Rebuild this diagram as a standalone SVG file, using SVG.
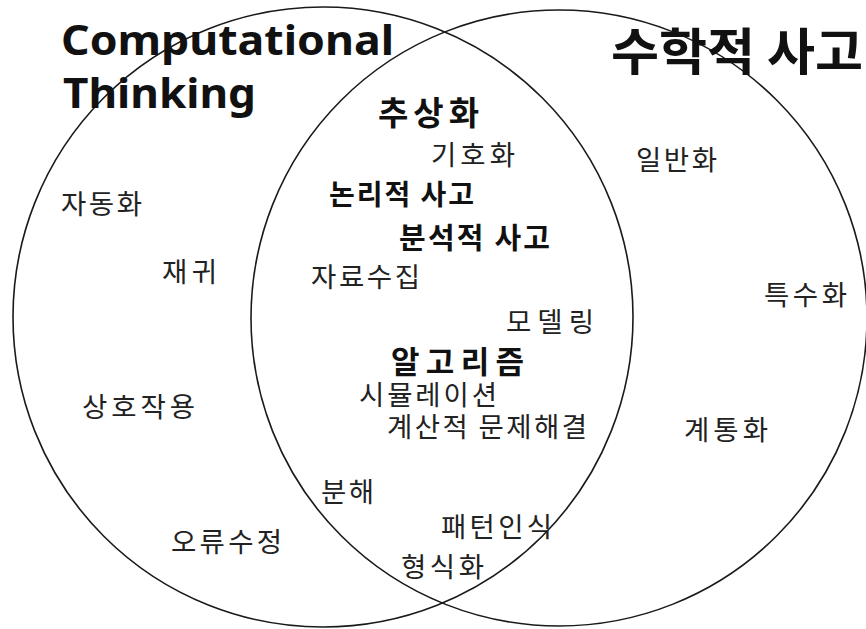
<svg xmlns="http://www.w3.org/2000/svg" width="866" height="629" viewBox="0 0 866 629">
<style>
.c{fill:none;stroke:#1a1a1a;stroke-width:1.6}
.t{font-family:"Noto Sans CJK KR","Noto Sans",sans-serif;fill:#222;font-size:27.5px}
.b{font-family:"Noto Sans CJK KR","Noto Sans",sans-serif;fill:#111;font-weight:bold}
.h{font-family:"Noto Sans","Open Sans",sans-serif;fill:#111;font-weight:bold;font-size:41px}
</style>
<rect width="866" height="629" fill="#fff"/>
<g id="circles">
<circle id="ct-circle" class="c" cx="323" cy="317" r="310"/>
<circle id="math-circle" class="c" cx="559" cy="318" r="308"/>
</g>
<g id="title-ct">
<text class="h" x="61" y="55" textLength="333" lengthAdjust="spacingAndGlyphs">Computational</text>
<text class="h" x="63" y="108" textLength="193" lengthAdjust="spacingAndGlyphs">Thinking</text>
</g>
<g id="title-math"><text class="b" x="611" y="70" font-size="50" textLength="252" lengthAdjust="spacingAndGlyphs">수학적 사고</text></g>
<g id="abstraction"><text class="b" x="378" y="125" font-size="33" textLength="101">추상화</text></g>
<g id="symbolization"><text class="t" x="431" y="165" textLength="84">기호화</text></g>
<g id="logical"><text class="b" x="329" y="205" font-size="28" textLength="145">논리적 사고</text></g>
<g id="analytical"><text class="b" x="399" y="249" font-size="29" textLength="151">분석적 사고</text></g>
<g id="data"><text class="t" x="311" y="287" textLength="109">자료수집</text></g>
<g id="modeling"><text class="t" x="506" y="332" textLength="88">모델링</text></g>
<g id="algorithm"><text class="b" x="391" y="373" font-size="31" textLength="133">알고리즘</text></g>
<g id="simulation"><text class="t" x="359" y="405" textLength="138">시뮬레이션</text></g>
<g id="comp-problem"><text class="t" x="387" y="437" textLength="200">계산적 문제해결</text></g>
<g id="decomposition"><text class="t" x="321" y="502" textLength="53">분해</text></g>
<g id="pattern"><text class="t" x="441" y="537" textLength="111">패턴인식</text></g>
<g id="formalization"><text class="t" x="401" y="577" textLength="83">형식화</text></g>
<g id="automation"><text class="t" x="61" y="214" textLength="81">자동화</text></g>
<g id="recursion"><text class="t" x="162" y="282" textLength="55">재귀</text></g>
<g id="interaction"><text class="t" x="82" y="417" textLength="113">상호작용</text></g>
<g id="debugging"><text class="t" x="171" y="552" textLength="111">오류수정</text></g>
<g id="generalization"><text class="t" x="636" y="170" textLength="81">일반화</text></g>
<g id="specialization"><text class="t" x="764" y="305" textLength="83">특수화</text></g>
<g id="systematization"><text class="t" x="684" y="440" textLength="84">계통화</text></g>
</svg>
